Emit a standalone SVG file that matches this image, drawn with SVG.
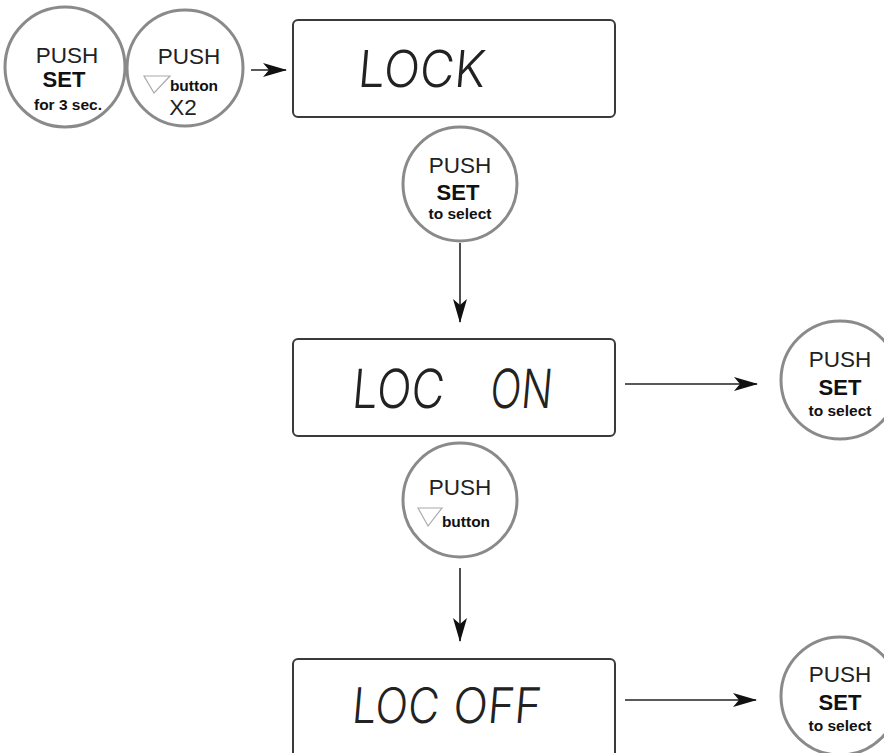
<svg xmlns="http://www.w3.org/2000/svg" width="884" height="753" viewBox="0 0 884 753">
<style>
.btn{fill:#fff;stroke:#8a8a8a;stroke-width:3}
.box{fill:#fff;stroke:#3a3a3a;stroke-width:2}
.t1{font-family:"Liberation Sans",Arial,sans-serif;font-size:22.5px;fill:#222;text-anchor:middle}
.t2{font-family:"Liberation Sans",Arial,sans-serif;font-size:22px;font-weight:bold;fill:#111;text-anchor:middle}
.t3{font-family:"Liberation Sans",Arial,sans-serif;font-size:15.5px;font-weight:bold;fill:#111;text-anchor:middle}
.tri{fill:none;stroke:#aaa;stroke-width:1.2}
.lcd{font-family:Inter,"DejaVu Sans",sans-serif;font-weight:300;fill:#222}
.con{stroke:#222;stroke-width:1.6;fill:none;marker-end:url(#ah)}
</style>
<defs>
<marker id="ah" markerUnits="userSpaceOnUse" markerWidth="24" markerHeight="14" refX="23" refY="7" orient="auto">
<path d="M0,0 L24,7 L0,14 L6,7 Z" fill="#111"/>
</marker>
</defs>
<rect width="884" height="753" fill="#fff"/>

<g id="push-set-3sec">
<circle class="btn" cx="65" cy="67" r="60"/>
<text class="t1" x="67" y="63">PUSH</text>
<text class="t2" x="64" y="87">SET</text>
<text class="t3" x="68" y="110">for 3 sec.</text>
</g>

<g id="push-down-x2">
<circle class="btn" cx="185" cy="68" r="58"/>
<text class="t1" x="189" y="64">PUSH</text>
<path class="tri" d="M144,76 L170,76 L154,93 Z"/>
<text class="t3" x="194" y="91">button</text>
<text class="t1" x="183" y="115">X2</text>
</g>

<g id="display-lock">
<rect class="box" x="293" y="20" width="322" height="97" rx="5"/>
<text class="lcd" font-size="51" transform="translate(357,87) skewX(-5)" textLength="127" lengthAdjust="spacingAndGlyphs">LOCK</text>
</g>

<g id="push-set-select-1">
<circle class="btn" cx="460" cy="184" r="57"/>
<text class="t1" x="460" y="173">PUSH</text>
<text class="t2" x="458" y="200">SET</text>
<text class="t3" x="460" y="219">to select</text>
</g>

<g id="display-loc-on">
<rect class="box" x="293" y="339" width="322" height="97" rx="5"/>
<text class="lcd" font-size="54" transform="translate(351,408) skewX(-5)" textLength="92" lengthAdjust="spacingAndGlyphs">LOC</text>
<text class="lcd" font-size="54" transform="translate(489,408) skewX(-5)" textLength="62" lengthAdjust="spacingAndGlyphs">ON</text>
</g>

<g id="push-set-select-on">
<circle class="btn" cx="840" cy="380" r="59"/>
<text class="t1" x="840" y="367">PUSH</text>
<text class="t2" x="840" y="395">SET</text>
<text class="t3" x="840" y="416">to select</text>
</g>

<g id="push-down">
<circle class="btn" cx="460" cy="500" r="57"/>
<text class="t1" x="460" y="495">PUSH</text>
<path class="tri" d="M418,508 L442,508 L428,526 Z"/>
<text class="t3" x="466" y="527">button</text>
</g>

<g id="display-loc-off">
<rect class="box" x="293" y="659" width="322" height="110" rx="5"/>
<text class="lcd" font-size="49" transform="translate(351,723) skewX(-5)" textLength="87" lengthAdjust="spacingAndGlyphs">LOC</text>
<text class="lcd" font-size="49" transform="translate(452,723) skewX(-5)" textLength="88" lengthAdjust="spacingAndGlyphs">OFF</text>
</g>

<g id="push-set-select-off">
<circle class="btn" cx="840" cy="696" r="59"/>
<text class="t1" x="840" y="682">PUSH</text>
<text class="t2" x="840" y="710">SET</text>
<text class="t3" x="840" y="731">to select</text>
</g>

<g id="connectors">
<line class="con" x1="251" y1="70" x2="286" y2="70"/>
<line class="con" x1="460" y1="243" x2="460" y2="322"/>
<line class="con" x1="625" y1="384" x2="757" y2="384"/>
<line class="con" x1="460" y1="568" x2="460" y2="641"/>
<line class="con" x1="625" y1="700" x2="756" y2="700"/>
</g>
</svg>
